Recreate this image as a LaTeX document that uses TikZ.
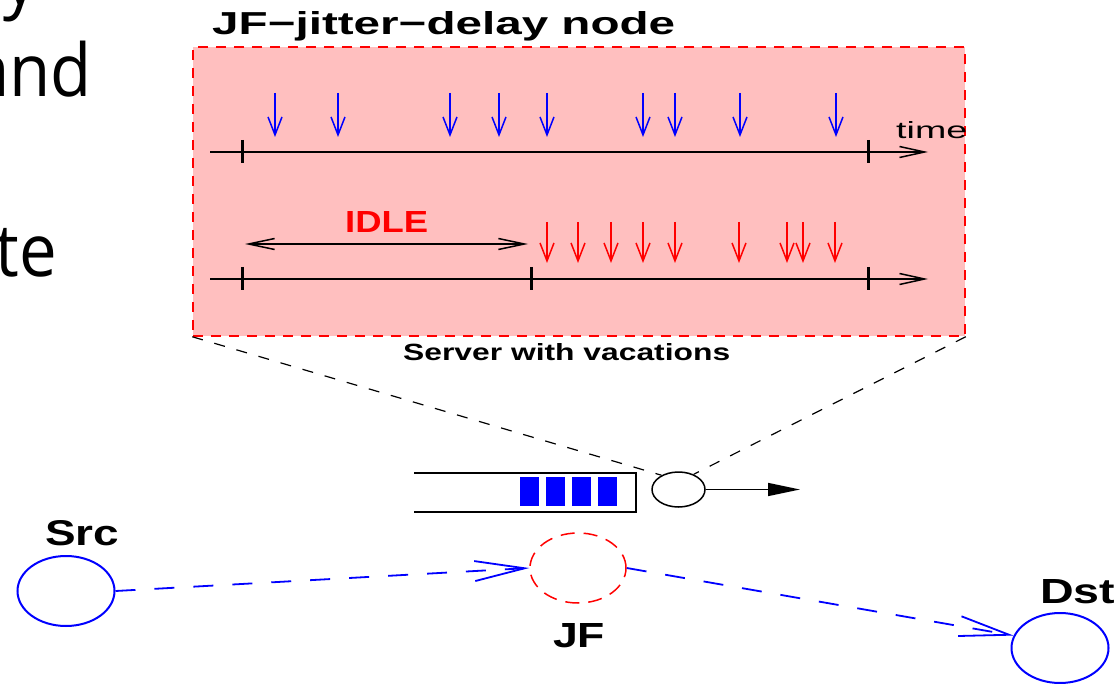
\documentclass[tikz,border=0pt]{standalone}
\usepackage{fontspec}
\setmainfont{Liberation Sans}
\newfontfamily\slidefont{Open Sans}
\usepackage{graphicx}
\usetikzlibrary{arrows.meta,shapes.geometric}
\newcommand{\fitbox}[3]{\resizebox{#1pt}{#2pt}{#3}}
\newcommand{\slidetxt}[1]{\scalebox{0.92}[1]{\fontsize{73pt}{73pt}\slidefont #1}}
\definecolor{boxpink}{RGB}{255,191,191}
\begin{document}
\begin{tikzpicture}[x=1pt,y=-1pt,
  lbl/.style={inner sep=0pt,anchor=base west},
  tickmark/.style={line width=3pt},
  tline/.style={line width=1.5pt,-{Straight Barb[length=25pt,width=11pt]}},
  evblue/.style={blue,line width=1.5pt,-{Straight Barb[length=18pt,width=14pt]}},
  evred/.style={red,line width=1.5pt,-{Straight Barb[length=18pt,width=14pt]}},
  flow/.style={blue,line width=1.8pt,dash pattern=on 20pt off 19pt,-{Straight Barb[length=50pt,width=20pt]}},
  host/.style={ellipse,draw=blue,line width=2pt,minimum width=97pt,minimum height=70pt,inner sep=0pt},
  zoomline/.style={line width=1.2pt,dash pattern=on 11pt off 12pt},
  pkt/.style={fill=blue,draw=none,minimum width=19pt,minimum height=29pt,inner sep=0pt}
]
\useasboundingbox (0,0) rectangle (1118,684);
\clip (0,0) rectangle (1118,684);
\fill[white] (0,0) rectangle (1118,684);

% clipped slide text
\node[inner sep=0pt,anchor=base east] (s1) at (38,4.5) {\slidetxt{y}};
\node[inner sep=0pt,anchor=base east] (s2) at (92,97) {\slidetxt{and}};
\node[inner sep=0pt,anchor=base east] (s3) at (57,277) {\slidetxt{te}};

% zoom box
\node[draw=red,fill=boxpink,dash pattern=on 10pt off 8pt,line width=1.5pt,
      minimum width=772pt,minimum height=289pt,inner sep=0pt] (zoombox) at (579,191.5) {};
\node[lbl] (title) at (212,35) {\fitbox{463}{23}{\bfseries JF−jitter−delay node}};

% timeline 1
\coordinate (t1s) at (210,152);
\coordinate (t1e) at (928,152);
\draw[tline] (t1s) -- (t1e);
\draw[tickmark] (242,140) -- (242,163);
\draw[tickmark] (868,140) -- (868,163);
\foreach \x in {275,338,450,499,547,643,675,740,836}
  \draw[evblue] (\x,93) -- (\x,137);
\node[lbl] (time) at (896,139) {\fitbox{71}{17}{time}};

% timeline 2
\coordinate (t2s) at (210,279);
\coordinate (t2e) at (928,279);
\draw[tline] (t2s) -- (t2e);
\draw[tickmark] (242,267) -- (242,290);
\draw[tickmark] (531,267) -- (531,290);
\draw[tickmark] (868,267) -- (868,290);
\foreach \x in {547,578,611,643,675,739,787,803,835}
  \draw[evred] (\x,222) -- (\x,263);
\coordinate (i1) at (245,244);
\coordinate (i2) at (528,244);
\draw[line width=1.5pt,{Straight Barb[length=26pt,width=11pt]}-{Straight Barb[length=26pt,width=11pt]}] (i1) -- (i2);
\node[lbl,text=red] (idle) at (345,233) {\fitbox{83}{21}{\bfseries IDLE}};
\node[lbl] (srvlbl) at (403,360) {\fitbox{327}{17}{\bfseries Server with vacations}};

% queue and server
\draw[line width=2.5pt] (414,473) -- (636,473) -- (636,512) -- (414,512);
\foreach \x/\n in {529.5/p1,555.5/p2,581.5/p3,607.5/p4}
  \node[pkt] (\n) at (\x,491.5) {};
\node[ellipse,draw,line width=1.5pt,minimum width=53pt,minimum height=35pt,inner sep=0pt] (srv) at (678.5,489.5) {};
\coordinate (out) at (800,489.5);
\draw[line width=1.5pt,-{Triangle[length=32pt,width=13pt]}] (srv.east) -- (out);
\draw[zoomline] (zoombox.south west) -- (srv.140);
\draw[zoomline] (zoombox.south east) -- (srv.45);

% network
\node[host] (src) at (66,591) {};
\node[host] (dst) at (1060,648) {};
\node[ellipse,draw=red,line width=1.5pt,dash pattern=on 14pt off 9pt,
      minimum width=96pt,minimum height=70pt,inner sep=0pt] (jf) at (578,568) {};
\node[lbl] (srctxt) at (45,545) {\fitbox{74}{25}{\bfseries Src}};
\node[lbl] (dsttxt) at (1040,603) {\fitbox{75}{24}{\bfseries Dst}};
\node[lbl] (jftxt) at (553,647) {\fitbox{52}{24}{\bfseries JF}};
\draw[flow] (src.east) -- (jf.west);
\draw[flow] (jf.east) -- (dst.165);
\end{tikzpicture}
\end{document}
